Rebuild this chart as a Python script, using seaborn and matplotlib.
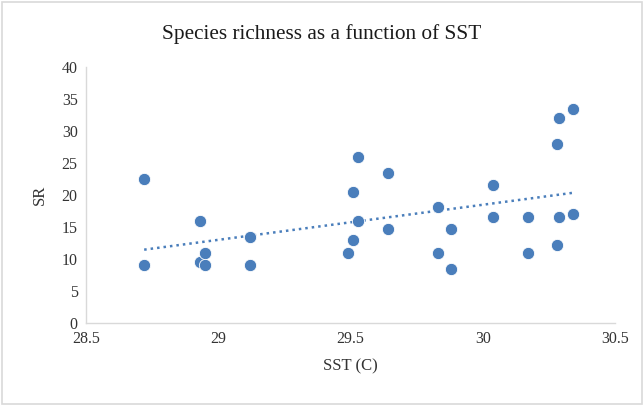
import numpy as np
import matplotlib
matplotlib.use("Agg")
import matplotlib.pyplot as plt
import seaborn as sns
from matplotlib.patches import Rectangle

# Valores
sst = [28.72, 28.72, 28.93, 28.93, 28.95, 28.95, 29.12, 29.12,
       29.49, 29.51, 29.51, 29.53, 29.53, 29.64, 29.64,
       29.83, 29.83, 29.88, 29.88, 30.04, 30.04, 30.17, 30.17,
       30.28, 30.28, 30.29, 30.29, 30.34, 30.34]
sr = [22.5, 9.0, 16.0, 9.6, 10.9, 9.0, 13.4, 9.0,
      10.9, 20.5, 13.0, 25.9, 15.9, 23.4, 14.6,
      18.1, 11.0, 14.6, 8.5, 21.5, 16.5, 16.5, 11.0,
      28.0, 12.1, 32.0, 16.5, 33.4, 17.0]

sns.set_style("white")
plt.rcParams["font.family"] = ["Liberation Serif", "DejaVu Serif"]

cor = "#4A7EBB"
fig = plt.figure(figsize=(6.44, 4.05), dpi=100)
ax = fig.add_axes([0.1335, 0.2025, 0.8215, 0.6325])

sns.scatterplot(x=sst, y=sr, ax=ax, color=cor, s=78, edgecolor="white", linewidth=0.6, zorder=3)

# Linha de tendência linear
a, b = np.polyfit(sst, sr, 1)
xs = np.array([min(sst), max(sst)])
ax.plot(xs, a * xs + b, color=cor, linestyle=(0, (1, 1.6)), linewidth=1.8, zorder=2)

ax.set_xlim(28.5, 30.5)
ax.set_ylim(0, 40)
ax.set_xticks([28.5, 29, 29.5, 30, 30.5])
ax.set_xticklabels(["28.5", "29", "29.5", "30", "30.5"])
ax.set_yticks(range(0, 41, 5))
ax.tick_params(labelsize=11.5, colors="#333333", length=0, pad=6)
for lado in ["top", "right"]:
    ax.spines[lado].set_visible(False)
for lado in ["left", "bottom"]:
    ax.spines[lado].set_color("#D9D9D9")
    ax.spines[lado].set_linewidth(1)

ax.set_xlabel("SST (C)", fontsize=12, color="#333333", labelpad=8)
ax.set_ylabel("SR", fontsize=12, color="#333333", labelpad=10)
fig.text(0.5, 0.915, "Species richness as a function of SST", ha="center", va="center", fontsize=15.3, color="#1a1a1a")

fig.patches.append(Rectangle((0.003, 0.003), 0.994, 0.992, transform=fig.transFigure,
                             fill=False, edgecolor="#D9D9D9", linewidth=1.2))

fig.savefig("out.png", dpi=100)
